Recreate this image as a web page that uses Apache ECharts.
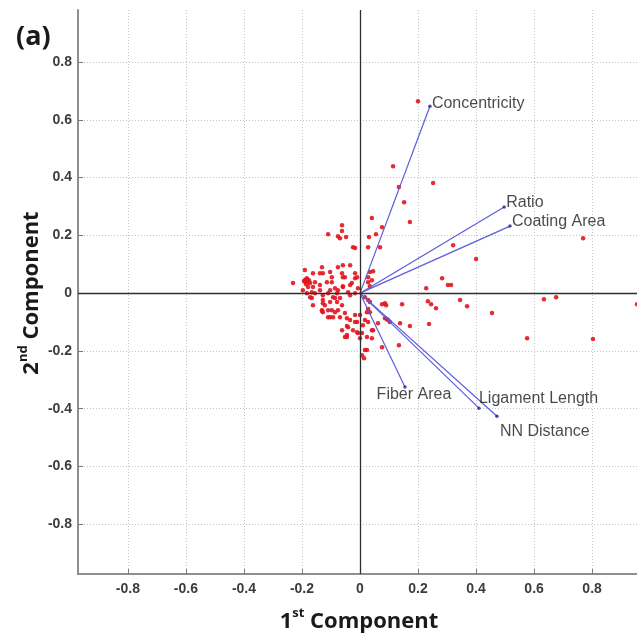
<!DOCTYPE html>
<html>
<head>
<meta charset="utf-8">
<script src="https://cdn.jsdelivr.net/npm/echarts@6/dist/echarts.min.js"></script>
<style>
html,body{margin:0;padding:0;background:#fff;}
#chart{width:637px;height:639px;}
</style>
</head>
<body>
<div id="chart"></div>
<script>
// ---- Data ----
const scoreX = [0.200,0.114,0.134,0.252,0.152,0.041,0.172,0.076,0.055,0.031,0.028,0.069,0.321,0.400,0.769,0.045,0.028,0.028,0.034,0.283,0.303,0.314,0.228,-0.017,-0.110,-0.076,-0.069,-0.062,-0.062,-0.048,0.634,0.676,0.955,0.145,0.234,0.245,0.262,0.345,0.369,0.455,0.138,0.172,0.238,0.576,0.803,0.134,0.076,0.090,0.103,0.093,0.062,0.034,0.028,0.028,0.000,-0.007,0.007,0.024,0.041,0.041,0.017,0.014,0.076,0.034,0.086,
-0.231,-0.190,-0.190,-0.183,-0.179,-0.186,-0.172,-0.162,-0.131,-0.128,-0.103,-0.097,-0.076,-0.059,-0.034,-0.062,-0.052,-0.028,-0.017,-0.010,0.034,0.041,-0.041,-0.076,-0.079,-0.093,-0.110,-0.138,-0.155,-0.172,-0.166,-0.162,-0.183,-0.197,-0.128,-0.121,-0.103,-0.079,-0.069,-0.062,-0.128,-0.110,-0.097,-0.086,-0.076,-0.052,-0.069,-0.103,-0.131,-0.034,-0.017,-0.045,-0.062,-0.045,-0.052,0.000,0.010,0.017,0.024,0.028,0.017,0.045,-0.024,0.024,0.007,0.097,-0.162,-0.166,-0.128,-0.103,-0.086,-0.059,-0.034,-0.128,-0.086,-0.131,
-0.110,-0.093,-0.045,-0.017,-0.010,-0.041,-0.010,-0.045,-0.007,-0.017,-0.138,-0.097,-0.059,-0.059,-0.034,-0.017,-0.155,-0.138,-0.114,-0.179,-0.024,0.086,-0.193,-0.186,-0.190,-0.176];
const scoreY = [0.664,0.439,0.367,0.381,0.315,0.260,0.246,0.228,0.204,0.194,0.159,0.159,0.166,0.118,0.190,0.076,0.055,0.038,0.024,0.052,0.028,0.028,0.017,0.156,0.204,0.197,0.190,0.235,0.215,0.194,-0.021,-0.014,-0.038,-0.038,-0.028,-0.038,-0.052,-0.024,-0.045,-0.069,-0.104,-0.114,-0.107,-0.156,-0.159,-0.180,-0.038,-0.042,-0.100,-0.090,-0.104,-0.066,-0.055,-0.100,-0.076,-0.138,-0.138,-0.152,-0.156,-0.128,-0.197,-0.225,-0.187,-0.031,-0.087,
0.035,0.080,0.045,0.052,0.038,0.031,0.035,0.069,0.090,0.069,0.073,0.038,0.090,0.097,0.097,0.069,0.055,0.035,0.069,0.055,0.073,0.045,0.003,0.010,0.000,-0.014,0.000,0.010,0.000,-0.014,-0.017,-0.042,0.000,0.010,-0.024,-0.042,-0.031,-0.031,-0.017,-0.042,-0.066,-0.059,-0.059,-0.066,-0.059,-0.069,-0.083,-0.083,-0.059,-0.093,-0.100,-0.114,-0.128,-0.145,-0.152,-0.156,-0.111,-0.093,-0.066,-0.024,-0.014,-0.128,-0.128,-0.197,-0.215,-0.093,0.021,0.003,-0.007,0.010,0.017,0.021,-0.007,-0.035,-0.017,-0.062,
-0.083,-0.083,-0.087,-0.076,-0.100,-0.118,-0.135,-0.152,0.017,0.000,0.069,0.055,0.055,0.024,0.028,0.052,0.038,0.028,0.038,0.021,0.159,-0.035,0.042,0.048,0.040,0.045];

const vectorNames = ['Concentricity','Ratio','Coating Area','Fiber Area','Ligament Length','NN Distance'];
const vectorX = [0.241, 0.497, 0.517, 0.155, 0.410, 0.472];
const vectorY = [0.647, 0.298, 0.232, -0.325, -0.398, -0.426];

// label placement styles (not data)
const vecLabelStyle = [
  {align:'left',   offset:[2,-3]},
  {align:'left',   offset:[2,-4]},
  {align:'left',   offset:[2,-5]},
  {align:'center', offset:[9,8]},
  {align:'left',   offset:[0,-10]},
  {align:'left',   offset:[3,15]}
];

const scorePoints = scoreX.map((x,i)=>[x, scoreY[i]]);

const chart = echarts.init(document.getElementById('chart'), null, {renderer:'canvas'});

const axisCommon = {
  type:'value',
  splitNumber:10,
  axisLine:{show:true, onZero:false, lineStyle:{color:'#8f8f8f', width:2}},
  axisTick:{show:true, inside:true, length:5, lineStyle:{color:'#7a7a7a', width:1}},
  axisLabel:{show:true, showMinLabel:false, showMaxLabel:false, color:'#3c3c3c',
    fontFamily:'Liberation Sans, Arial', fontSize:14, fontWeight:'bold',
    formatter:v=>{ if (Math.abs(v)<1e-9) return '0'; return String(+v.toFixed(1)); }},
  splitLine:{show:true, showMinLine:false, showMaxLine:false, lineStyle:{color:'#c4c4c4', type:[1,2], width:1}}
};

const vectorSeries = vectorNames.map((n,i)=>({
  type:'line',
  name:n,
  data:[[0,0],[vectorX[i], vectorY[i]]],
  showSymbol:false,
  symbol:'none',
  lineStyle:{color:'#5c5cdc', width:1.2},
  silent:true,
  z:4,
  animation:false
}));

const option = {
  animation:false,
  backgroundColor:'#fff',
  grid:{left:78, top:10, width:564, bottom:65, containLabel:false, outerBoundsMode:'none'},
  xAxis:Object.assign({}, axisCommon, {min:-0.972, max:0.972,
    axisLabel:Object.assign({}, axisCommon.axisLabel, {margin:8})}),
  yAxis:Object.assign({}, axisCommon, {min:-0.972, max:0.98,
    axisLabel:Object.assign({}, axisCommon.axisLabel, {margin:6})}),
  series:[
    {
      type:'scatter',
      name:'zero',
      data:[],
      silent:true,
      markLine:{
        silent:true,
        symbol:['none','none'],
        label:{show:false},
        lineStyle:{color:'#2e2e2e', width:1.3, type:'solid'},
        data:[{xAxis:0},{yAxis:0}],
        animation:false
      },
      z:2
    },
    {
      type:'scatter',
      name:'scores',
      data:scorePoints,
      symbol:'circle',
      symbolSize:4.5,
      itemStyle:{color:'#e3141e', opacity:0.9},
      z:3,
      silent:true
    },
    ...vectorSeries,
    {
      type:'scatter',
      name:'loadings',
      data:vectorNames.map((n,i)=>({
        name:n,
        value:[vectorX[i], vectorY[i]],
        label:{show:true, position:'inside', formatter:n, align:vecLabelStyle[i].align,
          verticalAlign:'middle', offset:vecLabelStyle[i].offset}
      })),
      symbol:'circle',
      symbolSize:3.5,
      itemStyle:{color:'#22228a'},
      label:{color:'#1a1a1a', fontFamily:'Liberation Sans, Arial', fontSize:16},
      z:5,
      silent:true
    }
  ],
  graphic:[
    {type:'text', left:16, top:24, style:{text:'(a)', font:'bold 27px "Open Sans", "Liberation Sans", sans-serif', fill:'#1a1a1a'}},
    {type:'text', x:359, y:620, style:{
      text:'{b|1}{s|st}{b| Component}', align:'center', verticalAlign:'middle',
      rich:{
        b:{fontSize:22, fontWeight:'bold', fontFamily:'"Open Sans", sans-serif', fill:'#1a1a1a', color:'#1a1a1a', verticalAlign:'bottom', lineHeight:26},
        s:{fontSize:13, fontWeight:'bold', fontFamily:'"Open Sans", sans-serif', fill:'#1a1a1a', color:'#1a1a1a', verticalAlign:'top', lineHeight:26, padding:[0,0,10,0]}
      }}},
    {type:'text', x:30, y:293, rotation:Math.PI/2, style:{
      text:'{b|2}{s|nd}{b| Component}', align:'center', verticalAlign:'middle',
      rich:{
        b:{fontSize:22, fontWeight:'bold', fontFamily:'"Open Sans", sans-serif', fill:'#1a1a1a', color:'#1a1a1a', verticalAlign:'bottom', lineHeight:26},
        s:{fontSize:13, fontWeight:'bold', fontFamily:'"Open Sans", sans-serif', fill:'#1a1a1a', color:'#1a1a1a', verticalAlign:'top', lineHeight:26, padding:[0,0,10,0]}
      }}}
  ]
};
chart.setOption(option);
</script>
</body>
</html>
